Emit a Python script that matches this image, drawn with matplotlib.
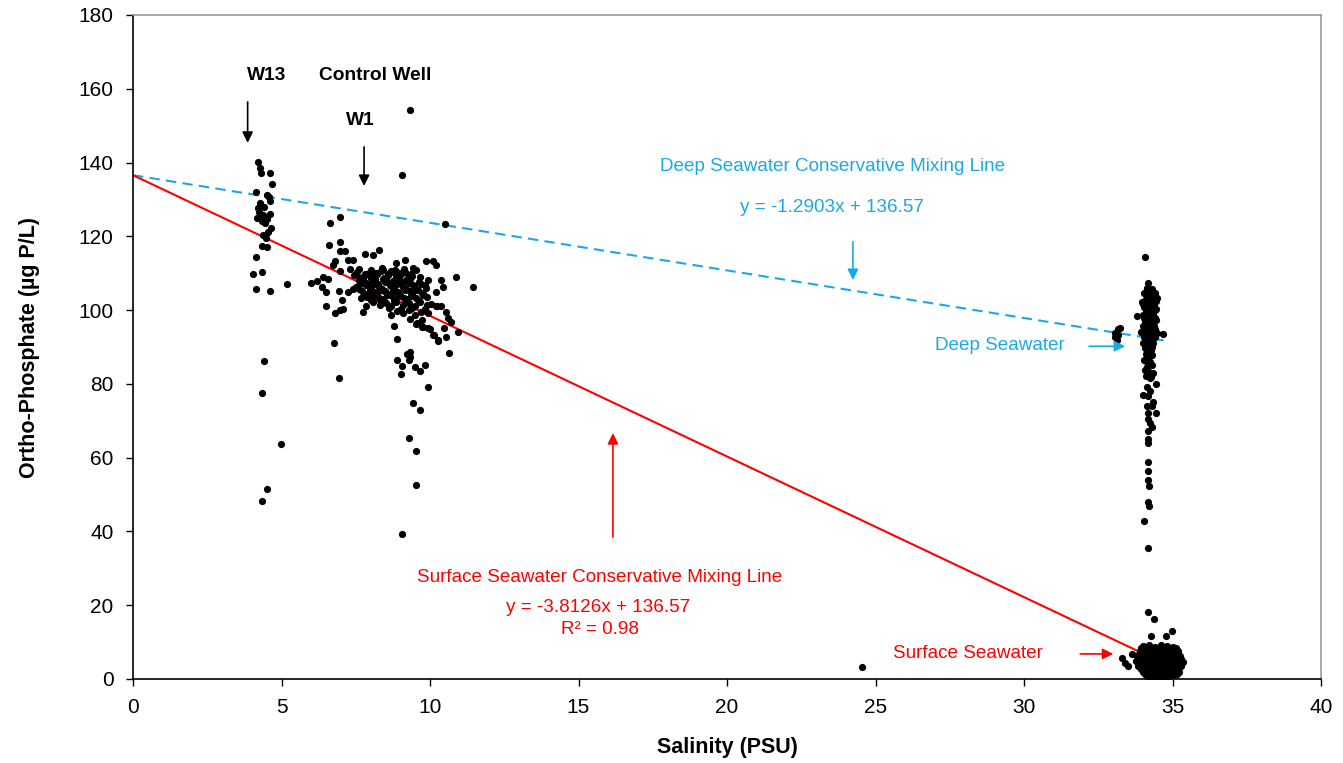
import numpy as np
import matplotlib
matplotlib.use('Agg')
import matplotlib.pyplot as plt

# Set an Arial-like font
plt.rcParams['font.family'] = ['Liberation Sans', 'DejaVu Sans']

# 1. Data (salinity PSU, ortho-phosphate ug P/L)
w13_sal = [4.20, 4.30, 4.27, 4.61, 4.67, 4.14, 4.50, 4.61, 4.27, 4.22, 4.38, 4.16,
           4.33, 4.44, 4.66, 4.55, 4.38, 4.33, 4.52, 4.13, 4.05, 4.36, 4.14, 4.61,
           5.17, 4.41, 4.36, 4.98, 4.52, 4.33, 4.25, 4.40, 4.50, 4.58, 4.48, 4.60]
w13_po4 = [140.1, 137.1, 138.6, 137.2, 134.2, 132.1, 131.3, 129.5, 129.0, 127.7, 125.9, 125.0,
           124.1, 123.6, 122.3, 121.3, 120.4, 117.3, 117.1, 114.5, 109.8, 110.3, 105.7, 105.2,
           107.0, 86.1, 77.4, 63.8, 51.5, 48.3, 126.5, 128.0, 124.8, 130.6, 119.5, 126.0]

well_sal = [9.33, 9.05, 6.63, 6.96, 10.50, 6.60, 6.96, 6.96, 7.13, 7.24, 7.41, 7.80,
            8.08, 8.27, 6.79, 6.74, 7.30, 6.96, 6.01, 6.18, 6.40, 6.57, 6.35, 6.49,
            6.51, 6.79, 6.96, 7.07, 7.05, 6.94, 7.24, 7.41, 7.58, 7.69, 7.86, 7.75,
            8.03, 8.31, 6.77, 6.94, 8.87, 9.15, 9.43, 9.88, 10.10, 10.21, 9.65, 9.93,
            10.38, 10.44, 10.89, 11.45, 10.21, 10.21, 10.38, 10.55, 10.61, 10.72, 10.94, 10.55,
            10.64, 10.10, 10.27, 9.93, 9.76, 9.54, 8.79, 8.89, 8.70, 9.32, 9.23, 8.90,
            9.07, 9.03, 9.49, 9.68, 9.83, 9.93, 7.86, 8.03, 8.42, 8.70, 9.34, 9.28,
            9.43, 9.66, 9.28, 9.54, 9.53, 9.06, 10.24, 9.56, 9.74, 9.99, 10.13, 10.26,
            10.47]
well_po4 = [154.2, 136.6, 123.6, 125.3, 123.4, 117.7, 118.4, 115.9, 115.9, 113.6, 113.5, 115.2,
            115.0, 116.2, 113.2, 112.3, 111.1, 110.5, 107.3, 108.0, 109.0, 108.4, 106.2, 104.9,
            101.1, 99.3, 99.9, 100.2, 102.8, 105.3, 105.0, 105.7, 106.6, 103.2, 101.1, 99.6,
            104.1, 102.8, 91.0, 81.6, 112.7, 113.6, 111.4, 113.2, 113.2, 112.3, 109.1, 108.2,
            108.2, 106.2, 109.1, 106.4, 105.0, 101.1, 101.1, 99.6, 97.8, 96.9, 94.2, 92.8,
            88.4, 93.3, 91.9, 95.1, 95.5, 96.2, 95.7, 92.1, 98.7, 87.4, 88.1, 86.6,
            84.9, 82.6, 84.6, 83.6, 85.0, 79.2, 107.3, 108.7, 110.9, 110.5, 88.7, 86.5,
            74.9, 72.8, 65.2, 61.7, 52.7, 39.2, 101.1, 96.4, 95.3, 94.8, 93.3, 91.5,
            95.1]

# dense core of the control well cloud
core_sal = [7.62, 8.03, 8.38, 8.81, 9.12,
            7.43, 7.79, 8.22, 8.58, 9.01, 9.38,
            7.61, 8.04, 8.43, 8.77, 9.18, 9.63,
            7.52, 7.91, 8.27, 8.69, 9.08, 9.47, 9.88,
            7.71, 8.12, 8.49, 8.93, 9.31, 9.72,
            7.88, 8.29, 8.72, 9.13, 9.52, 9.91,
            8.08, 8.51, 8.87, 9.29, 9.68, 10.02,
            8.61, 9.02, 9.41, 9.82,
            9.09, 9.48, 9.93,
            9.31, 9.72,
            7.55, 7.95, 8.35, 8.75, 9.15,
            7.65, 8.05, 8.45, 8.85, 9.25,
            7.70, 8.10, 8.50, 8.90, 9.30, 9.70,
            7.60, 8.00, 8.40, 8.80, 9.20, 9.60,
            7.80, 8.20, 8.60, 9.00, 9.40, 9.80,
            8.00, 8.40, 8.80, 9.20, 9.60,
            8.30, 8.70, 9.10, 9.50, 9.90,
            8.90, 9.30, 9.70,
            7.82, 8.18, 8.57, 8.96, 9.35,
            7.74, 8.14, 8.53, 8.94, 9.33, 9.52,
            7.84, 8.24, 8.64, 9.05, 9.44, 9.84,
            7.97, 8.36, 8.76, 9.16, 9.56,
            8.17, 8.56, 8.96, 9.37, 9.76,
            8.44, 8.83, 9.24, 9.63]
core_po4 = [111.2, 110.8, 111.4, 110.9, 111.1,
            109.6, 109.3, 109.8, 109.4, 109.7, 109.2,
            108.1, 107.8, 108.3, 107.9, 108.2, 107.7,
            106.4, 106.7, 106.3, 106.6, 106.2, 106.5, 106.1,
            105.1, 104.8, 105.2, 104.9, 105.3, 104.7,
            103.6, 103.3, 103.7, 103.4, 103.2, 103.5,
            102.1, 101.8, 102.2, 101.9, 102.3, 101.7,
            100.6, 100.3, 100.7, 100.2,
            99.1, 98.8, 99.2,
            97.6, 97.3,
            110.3, 110.1, 110.5, 110.2, 110.4,
            108.8, 109.0, 108.6, 108.9, 108.7,
            107.3, 107.1, 107.5, 107.2, 107.4, 107.0,
            105.8, 106.0, 105.6, 105.9, 105.7, 105.5,
            104.3, 104.1, 104.5, 104.2, 104.4, 104.0,
            102.8, 103.0, 102.6, 102.9, 102.7,
            101.3, 101.1, 101.5, 101.2, 101.4,
            99.8, 100.0, 99.6,
            109.9, 110.0, 109.7, 110.1, 109.9,
            108.4, 108.5, 108.2, 108.4, 108.5, 110.8,
            106.9, 107.0, 106.8, 107.0, 106.9, 106.8,
            105.4, 105.5, 105.3, 105.4, 105.5,
            103.9, 104.0, 103.8, 103.9, 104.0,
            102.4, 102.5, 102.3, 102.4]

deep_sal = [34.07, 34.19, 34.24, 34.13, 33.96, 34.41, 33.79, 34.69, 34.19, 34.19, 34.13, 34.30,
            34.07, 34.35, 34.24, 34.44, 34.13, 34.02, 34.19, 34.33, 34.13, 34.44, 34.19, 34.19,
            34.24, 34.30, 34.19, 34.16, 34.19, 34.16, 34.16, 34.19, 34.22, 34.19, 34.22, 34.04,
            34.19,
            34.15, 34.30, 34.05, 34.22, 34.40, 34.12, 34.30, 34.48, 34.02, 34.20, 34.38,
            34.10, 34.28, 34.45, 34.00, 34.18, 34.36, 34.08, 34.26, 34.44, 34.02, 34.20, 34.38,
            33.95, 34.12, 34.30, 34.48, 34.05, 34.24, 34.42, 34.00, 34.18, 34.36,
            34.08, 34.28, 34.12, 34.32, 34.05, 34.22, 34.15, 34.10, 34.28, 34.25, 34.30,
            34.20, 34.36, 34.15, 34.33, 34.10, 34.28, 34.44, 34.05, 34.22, 34.38,
            34.12, 34.30, 34.05, 34.22, 34.40, 34.15, 34.32, 34.08, 34.25, 34.42,
            34.18, 34.35, 34.10, 34.28, 34.15, 34.32, 34.20, 34.15, 34.25, 34.20,
            33.18, 33.24, 33.06, 33.08, 33.12, 33.15]
deep_po4 = [114.5, 107.3, 105.4, 104.6, 102.3, 100.0, 98.4, 93.5, 92.4, 89.2, 86.0, 85.1,
            83.8, 82.9, 81.5, 80.0, 79.2, 77.0, 76.7, 75.2, 74.1, 72.0, 72.2, 70.4,
            69.5, 68.2, 67.3, 65.0, 63.9, 58.9, 56.4, 53.9, 52.4, 47.9, 47.0, 42.9,
            35.6,
            106.1, 105.8, 104.6, 104.3, 104.7, 103.1, 102.8, 103.2, 101.6, 101.4, 101.7,
            100.1, 99.8, 100.2, 98.6, 98.3, 98.7, 97.1, 96.8, 97.2, 95.6, 95.3, 95.7,
            94.1, 93.8, 94.2, 93.9, 92.6, 92.3, 92.7, 91.1, 90.8, 91.2,
            89.6, 89.3, 88.1, 87.8, 86.6, 86.3, 84.5, 82.1, 81.8, 78.0, 74.0,
            105.2, 105.0, 103.8, 103.6, 102.3, 102.1, 102.4, 100.8, 100.6, 100.9,
            99.3, 99.1, 97.8, 97.6, 97.9, 96.3, 96.1, 94.8, 94.6, 94.9,
            93.3, 93.1, 91.8, 91.6, 90.3, 90.1, 88.8, 87.3, 85.8, 83.2,
            94.8, 95.1, 93.7, 92.6, 92.0, 93.3]

surf_sal = [34.19, 34.38, 34.28, 34.77, 34.97, 33.63, 33.29, 33.40, 33.51, 24.55,
            34.00, 34.20, 34.40, 34.60, 34.80, 35.00,
            33.90, 34.08, 34.28, 34.46, 34.66, 34.86, 35.06, 35.20,
            33.82, 34.00, 34.18, 34.36, 34.54, 34.72, 34.90, 35.08, 35.26,
            33.78, 33.96, 34.14, 34.32, 34.50, 34.68, 34.86, 35.04, 35.22, 35.34,
            33.85, 34.02, 34.20, 34.38, 34.56, 34.74, 34.92, 35.10, 35.28,
            34.00, 34.18, 34.36, 34.54, 34.72, 34.90, 35.08, 35.22,
            34.15, 34.32, 34.50, 34.68, 34.86, 35.04,
            33.95, 34.15, 34.35, 34.55, 34.75, 34.95, 35.12,
            33.88, 34.08, 34.28, 34.46, 34.64, 34.82, 35.00, 35.18,
            33.85, 34.05, 34.24, 34.42, 34.60, 34.78, 34.96, 35.14, 35.30,
            33.90, 34.10, 34.28, 34.46, 34.64, 34.82, 35.00, 35.18,
            33.95, 34.10, 34.28, 34.46, 34.64, 34.82, 35.00, 35.18,
            34.08, 34.26, 34.44, 34.62, 34.80, 34.98, 35.15,
            34.25, 34.45, 34.65, 34.85]
surf_po4 = [18.2, 16.2, 11.7, 11.7, 13.0, 6.7, 5.6, 4.4, 3.5, 3.3,
            9.0, 9.3, 8.8, 9.2, 8.9, 8.6,
            7.6, 7.8, 7.4, 7.7, 7.5, 7.9, 7.3, 7.6,
            6.2, 6.4, 6.0, 6.3, 6.1, 6.5, 6.2, 6.0, 6.3,
            4.8, 5.0, 4.6, 4.9, 4.7, 5.1, 4.8, 4.6, 4.9, 4.7,
            3.4, 3.6, 3.2, 3.5, 3.3, 3.7, 3.4, 3.2, 3.5,
            2.0, 2.2, 1.8, 2.1, 1.9, 2.3, 2.0, 1.8,
            0.8, 1.0, 0.6, 0.9, 0.7, 1.1,
            8.3, 8.1, 8.4, 8.2, 8.5, 8.0, 8.3,
            6.9, 7.1, 6.8, 7.0, 6.9, 7.2, 6.8, 7.0,
            5.5, 5.7, 5.4, 5.6, 5.5, 5.8, 5.4, 5.6, 5.5,
            4.1, 4.3, 4.0, 4.2, 4.1, 4.4, 4.0, 4.2,
            2.7, 2.9, 2.6, 2.8, 2.7, 3.0, 2.6, 2.8,
            1.4, 1.6, 1.3, 1.5, 1.4, 1.7, 1.3,
            0.3, 0.5, 0.4, 0.3]

# Mixing lines (end member intercept 136.57)
intercept = 136.57
deep_slope = -1.2903
surf_slope = -3.8126
deep_x_end = 34.75
surf_x_end = 35.25

blue = '#1BA9E6'
red = '#FF0000'

# 2. Figure
fig = plt.figure(figsize=(13.43, 7.63), dpi=100)
ax = fig.add_axes([133 / 1343, 1 - 679 / 763, 1188 / 1343, 664 / 763])

# Mixing lines
xd = np.array([0, deep_x_end])
ax.plot(xd, intercept + deep_slope * xd, color=blue, linewidth=1.5,
        linestyle=(0, (5, 3)), zorder=2)
xs = np.array([0, surf_x_end])
ax.plot(xs, intercept + surf_slope * xs, color=red, linewidth=1.5, zorder=2)

# Sample points
for sal, po4 in [(w13_sal, w13_po4), (well_sal, well_po4), (core_sal, core_po4),
                 (deep_sal, deep_po4), (surf_sal, surf_po4)]:
    ax.scatter(sal, po4, s=27, color='black', linewidths=0, zorder=3)

# 3. Annotations
bold_fs = 13.8
txt_fs = 13.6
ax.text(4.51, 163.7, 'W13', ha='center', va='center', fontsize=bold_fs, fontweight='bold')
ax.text(8.15, 163.7, 'Control Well', ha='center', va='center', fontsize=bold_fs, fontweight='bold')
ax.text(7.64, 151.3, 'W1', ha='center', va='center', fontsize=bold_fs, fontweight='bold')

arrow_k = dict(arrowstyle='-|>', color='black', lw=1.2, mutation_scale=16)
ax.annotate('', xy=(3.86, 144.6), xytext=(3.86, 157.2), arrowprops=arrow_k)
ax.annotate('', xy=(7.78, 132.9), xytext=(7.78, 145.0), arrowprops=arrow_k)

ax.text(23.54, 138.8, 'Deep Seawater Conservative Mixing Line', color=blue,
        ha='center', va='center', fontsize=txt_fs)
ax.text(23.54, 127.8, 'y = -1.2903x + 136.57', color=blue,
        ha='center', va='center', fontsize=txt_fs)
ax.annotate('', xy=(24.24, 107.4), xytext=(24.24, 119.3),
            arrowprops=dict(arrowstyle='-|>', color=blue, lw=1.2, mutation_scale=16))
ax.text(29.2, 90.5, 'Deep Seawater', color=blue, ha='center', va='center', fontsize=txt_fs)
ax.annotate('', xy=(33.5, 90.2), xytext=(32.1, 90.2),
            arrowprops=dict(arrowstyle='-|>', color=blue, lw=1.2, mutation_scale=16))

ax.text(15.72, 27.5, 'Surface Seawater Conservative Mixing Line', color=red,
        ha='center', va='center', fontsize=txt_fs)
ax.text(15.65, 19.5, 'y = -3.8126x + 136.57', color=red,
        ha='center', va='center', fontsize=txt_fs)
ax.text(15.72, 13.3, 'R² = 0.98', color=red, ha='center', va='center', fontsize=txt_fs)
ax.annotate('', xy=(16.16, 67.4), xytext=(16.16, 37.7),
            arrowprops=dict(arrowstyle='-|>', color=red, lw=1.2, mutation_scale=16))
ax.text(28.1, 6.8, 'Surface Seawater', color=red, ha='center', va='center', fontsize=txt_fs)
ax.annotate('', xy=(33.1, 6.8), xytext=(31.8, 6.8),
            arrowprops=dict(arrowstyle='-|>', color=red, lw=1.2, mutation_scale=16))

# 4. Axes settings
ax.set_xlim(0, 40)
ax.set_ylim(0, 180)
ax.set_xticks(np.arange(0, 41, 5))
ax.set_yticks(np.arange(0, 181, 20))
ax.tick_params(direction='out', length=5, width=1, labelsize=15, colors='black', pad=9)
ax.spines['left'].set_color('black')
ax.spines['bottom'].set_color('black')
ax.spines['top'].set_color('#999999')
ax.spines['right'].set_color('#999999')
for sp in ax.spines.values():
    sp.set_linewidth(1.2)
ax.set_xlabel('Salinity (PSU)', fontsize=15.5, fontweight='bold', labelpad=14)
ax.set_ylabel('Ortho-Phosphate (µg P/L)', fontsize=15.5, fontweight='bold', labelpad=28)

fig.savefig('out.png', dpi=100)
